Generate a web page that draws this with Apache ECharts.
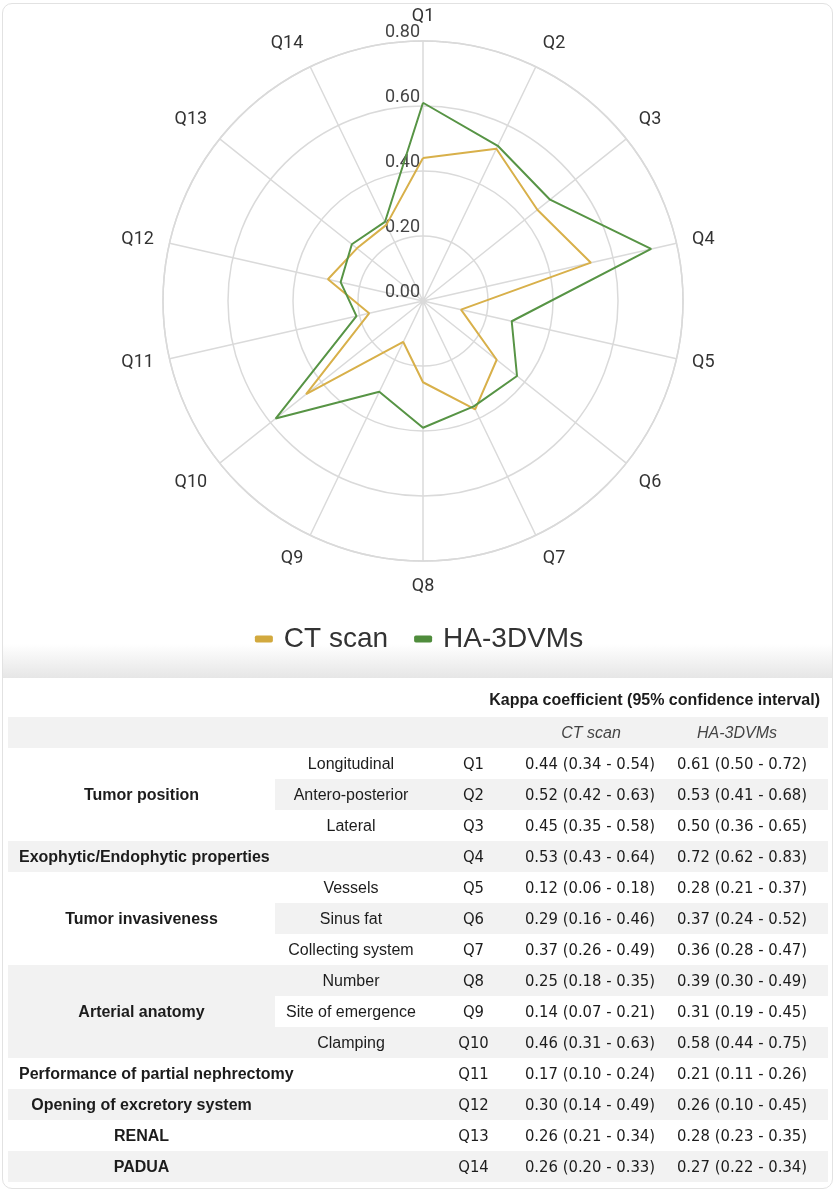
<!DOCTYPE html>
<html>
<head>
<meta charset="utf-8">
<script src="https://cdn.jsdelivr.net/npm/echarts@6/dist/echarts.min.js"></script>
<style>
  html, body { margin:0; padding:0; background:#fff; }
  #page { position:relative; width:838px; height:1200px; overflow:hidden; background:#fff; }
  #card { position:absolute; left:2px; top:3px; width:831px; height:1186px; border:1px solid #e2e2e2; border-radius:10px; box-sizing:border-box; }
  #band { position:absolute; left:3px; top:644px; width:830px; height:34px; background:linear-gradient(#ffffff, #e6e6e6); }
  #chart { position:absolute; left:0; top:0; width:838px; height:670px; }
  #table { position:absolute; left:0; top:0; width:838px; height:1200px; font-family:"Liberation Sans", Arial, sans-serif; color:#1c1c1c; }
  .cell { position:absolute; display:flex; align-items:center; justify-content:center; white-space:nowrap; font-size:16px; box-sizing:border-box; }
  .num { font-family:"Liberation Sans Narrow", "Arial Narrow", "DejaVu Sans Condensed", sans-serif; font-size:16.5px; }
  .bold { font-weight:bold; }
  .gray { position:absolute; background:#f2f2f2; }
</style>
</head>
<body>
<div id="page">
  <div id="band"></div>
  <div id="card"></div>
  <div id="chart"></div>
  <div id="table"></div>
</div>
<script>
// ---------- data ----------
const categories = ['Q1','Q2','Q3','Q4','Q5','Q6','Q7','Q8','Q9','Q10','Q11','Q12','Q13','Q14'];
const ctScan   = [0.44,0.52,0.45,0.53,0.12,0.29,0.37,0.25,0.14,0.46,0.17,0.30,0.26,0.26];
const ctLow    = [0.34,0.42,0.35,0.43,0.06,0.16,0.26,0.18,0.07,0.31,0.10,0.14,0.21,0.20];
const ctHigh   = [0.54,0.63,0.58,0.64,0.18,0.46,0.49,0.35,0.21,0.63,0.24,0.49,0.34,0.33];
const ha3dvms  = [0.61,0.53,0.50,0.72,0.28,0.37,0.36,0.39,0.31,0.58,0.21,0.26,0.28,0.27];
const haLow    = [0.50,0.41,0.36,0.62,0.21,0.24,0.28,0.30,0.19,0.44,0.11,0.10,0.23,0.22];
const haHigh   = [0.72,0.68,0.65,0.83,0.37,0.52,0.47,0.49,0.45,0.75,0.26,0.45,0.35,0.34];
const subItems = ['Longitudinal','Antero-posterior','Lateral','','Vessels','Sinus fat','Collecting system','Number','Site of emergence','Clamping','','','',''];
const groupNames = ['Tumor position','Exophytic/Endophytic properties','Tumor invasiveness','Arterial anatomy','Performance of partial nephrectomy','Opening of excretory system','RENAL','PADUA'];
const groupStart = [0,3,4,7,10,11,12,13];
const groupSize  = [3,1,3,3,1,1,1,1];
const radiusTicks = [0.00,0.20,0.40,0.60,0.80];
const seriesNames = ['CT scan','HA-3DVMs'];
const tableTitle = 'Kappa coefficient (95% confidence interval)';

// ---------- chart ----------
const chart = echarts.init(document.getElementById('chart'), null, {renderer:'canvas'});
const closed = arr => arr.map((v,i)=>[v,i]).concat([[arr[0], categories.length]]);
const gridColor = '#dadada';
chart.setOption({
  animation:false,
  backgroundColor:'transparent',
  polar:{ center:[423,301], radius:260 },
  angleAxis:{
    type:'value', min:0, max:categories.length, interval:1, startAngle:90, clockwise:true,
    axisLine:{ show:true, lineStyle:{ color:gridColor, width:1.5 } },
    axisTick:{ show:false },
    splitLine:{ show:true, lineStyle:{ color:gridColor, width:1.5 } },
    axisLabel:{ margin:16, color:'#333', fontSize:18, fontFamily:'Roboto',
      formatter: v => (v < categories.length ? categories[v] : '') }
  },
  radiusAxis:{
    type:'value', min:radiusTicks[0], max:radiusTicks[radiusTicks.length-1], interval:0.2,
    axisLine:{ show:false }, axisTick:{ show:false },
    splitLine:{ show:true, lineStyle:{ color:gridColor, width:1.5 } },
    axisLabel:{ color:'#444', fontSize:18, fontFamily:'Roboto', margin:3,
      align:'right', verticalAlign:'bottom', formatter: v => v.toFixed(2) },
    z: 1
  },
  legend:{
    data: seriesNames, left:'center', top:620, itemWidth:18, itemHeight:7, itemGap:26,
    icon:'roundRect',
    textStyle:{ fontSize:28, fontFamily:'Liberation Sans', color:'#333', padding:[0,0,0,6] }
  },
  series:[
    { name:seriesNames[0], type:'line', coordinateSystem:'polar', data:closed(ctScan),
      symbol:'none', color:'#D2A93E', lineStyle:{ width:2, color:'#D8B04A' }, z:3 },
    { name:seriesNames[1], type:'line', coordinateSystem:'polar', data:closed(ha3dvms),
      symbol:'none', color:'#4F8C3C', lineStyle:{ width:2, color:'#579445' }, z:4 }
  ]
});

// ---------- table ----------
const T = document.getElementById('table');
const L = 8, R = 828;
const cols = [ [8,275], [275,427], [427,520], [520,660], [660,828] ];
const titleTop = 682, headTop = 717, headH = 31, rowTop = 748, rowH = 31;
function add(cls, x0, x1, y0, h, text, extra){
  const d = document.createElement('div');
  d.className = cls;
  d.style.left = x0+'px'; d.style.width = (x1-x0)+'px';
  d.style.top = y0+'px'; d.style.height = h+'px';
  if (text !== undefined) d.textContent = text;
  if (extra) Object.assign(d.style, extra);
  T.appendChild(d);
  return d;
}
// header
add('cell bold', 300, R-8, titleTop, headTop-titleTop, tableTitle, {justifyContent:'flex-end', fontSize:'16px'});
add('gray', L, R, headTop, headH);
add('cell', cols[3][0], cols[3][1], headTop, headH, seriesNames[0], {fontStyle:'italic', color:'#444', paddingLeft:'2px'});
add('cell', cols[4][0], cols[4][1], headTop, headH, seriesNames[1], {fontStyle:'italic', color:'#444', paddingRight:'14px'});
// row shading
categories.forEach((q,i)=>{
  if (i % 2 === 1) add('gray', cols[1][0], R, rowTop + i*rowH, rowH);
});
// group cells
groupNames.forEach((g,k)=>{
  const s = groupStart[k], n = groupSize[k];
  const y = rowTop + s*rowH, h = n*rowH;
  if (s % 2 === 1) add('gray', L, cols[1][0], y, h);
  const leftAlign = (g.length > 28);
  add('cell bold', cols[0][0], cols[0][1], y, h, g,
      leftAlign ? {justifyContent:'flex-start', paddingLeft:'11px', overflow:'visible'} : {});
});
// row cells
categories.forEach((q,i)=>{
  const y = rowTop + i*rowH;
  if (subItems[i]) add('cell', cols[1][0], cols[1][1], y, rowH, subItems[i]);
  add('cell num', cols[2][0], cols[2][1], y, rowH, q);
  add('cell num', cols[3][0], cols[3][1], y, rowH,
      ctScan[i].toFixed(2)+' ('+ctLow[i].toFixed(2)+' - '+ctHigh[i].toFixed(2)+')');
  add('cell num', cols[4][0], cols[4][1], y, rowH,
      ha3dvms[i].toFixed(2)+' ('+haLow[i].toFixed(2)+' - '+haHigh[i].toFixed(2)+')', {paddingRight:'4px'});
});
</script>
</body>
</html>
